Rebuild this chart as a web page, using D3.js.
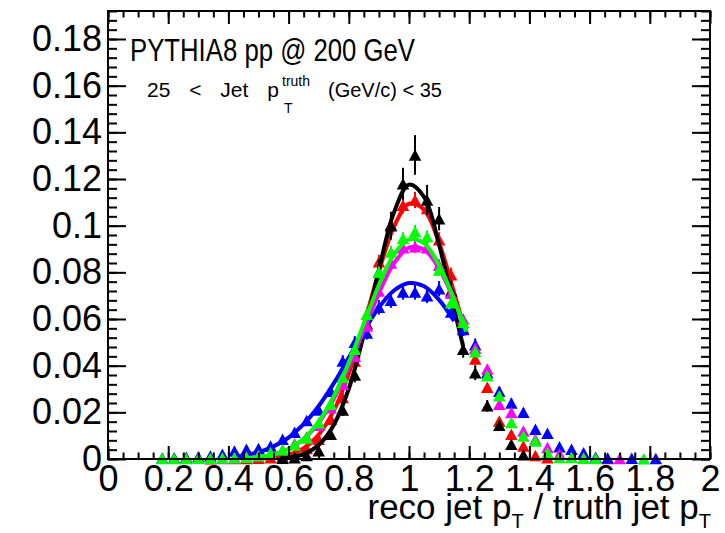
<!DOCTYPE html>
<html>
<head>
<meta charset="utf-8">
<script src="https://cdn.jsdelivr.net/npm/d3@7"></script>
<style>
  body { margin: 0; background: #fff; }
  svg { display: block; }
  text { font-family: "Liberation Sans", Arial, Helvetica, sans-serif; fill: #000; }
</style>
</head>
<body>
<svg id="chart" width="725" height="533"></svg>
<script>
// Bin centres of the response histograms (bin width 0.04)
const binCenters = [0.02,0.06,0.10,0.14,0.18,0.22,0.26,0.30,0.34,0.38,
  0.42,0.46,0.50,0.54,0.58,0.62,0.66,0.70,0.74,0.78,
  0.82,0.86,0.90,0.94,0.98,1.02,1.06,1.10,1.14,1.18,
  1.22,1.26,1.30,1.34,1.38,1.42,1.46,1.50,1.54,1.58,
  1.62,1.66,1.70,1.74,1.78,1.82,1.86,1.90,1.94,1.98];

// Normalised bin contents (null = empty bin)
const blackVals = [null,null,null,null,null,null,null,null,null,null,
  null,null,null,null,0.0003,0.0005,0.0015,0.0035,0.0106,0.021,
  0.036,0.058,0.080,0.100,0.118,0.1303,0.111,0.103,0.072,0.047,
  0.037,0.0228,0.0145,0.0063,0.0018,null,null,null,null,null,
  null,null,null,null,null,null,null,null,null,null];
const blackErrs = [null,null,null,null,null,null,null,null,null,null,
  null,null,null,null,0.0003,0.0004,0.0007,0.001,0.0018,0.0025,
  0.0032,0.004,0.0055,0.006,0.0068,0.0085,0.0065,0.005,0.0045,0.0036,
  0.0032,0.0025,0.002,0.0013,0.0007,null,null,null,null,null,
  null,null,null,null,null,null,null,null,null,null];

const redVals = [null,null,null,null,null,null,null,null,0.0001,null,
  0.0002,0.0002,0.0003,0.0005,0.001,0.002,0.0045,0.0085,0.017,0.0264,
  0.042,0.062,0.0845,0.1005,0.1088,0.111,0.1074,0.094,0.079,0.056,
  0.0429,0.0307,0.0163,0.0106,0.0056,0.0015,0.0005,null,null,null,
  null,0.0002,null,null,null,null,null,null,null,null];
const redErrs = [null,null,null,null,null,null,null,null,0.0001,null,
  0.0001,0.0001,0.0002,0.0002,0.0003,0.0005,0.0007,0.001,0.0014,0.0017,
  0.0021,0.0026,0.003,0.0033,0.0035,0.0035,0.0034,0.0032,0.003,0.0025,
  0.0022,0.0018,0.0013,0.0011,0.0008,0.0004,0.0002,null,null,null,
  null,0.0001,null,null,null,null,null,null,null,null];

const magentaVals = [null,null,null,null,null,null,null,null,null,0.0002,
  0.0004,0.0008,0.0015,0.0025,0.004,0.0065,0.0095,0.0145,0.022,0.032,
  0.044,0.057,0.072,0.084,0.0905,0.091,0.0905,0.083,0.071,0.060,
  0.0475,0.0386,0.0235,0.0199,0.012,0.0085,0.0049,0.0021,0.0008,0.0004,
  null,null,0.0002,null,null,null,null,null,null,null];
const magentaErrs = [null,null,null,null,null,null,null,null,null,0.0001,
  0.0002,0.0003,0.0003,0.0004,0.0006,0.0007,0.0009,0.0011,0.0013,0.0016,
  0.0019,0.0021,0.0024,0.0026,0.0027,0.0027,0.0027,0.0026,0.0024,0.0022,
  0.002,0.0018,0.0014,0.0013,0.001,0.0008,0.0006,0.0004,0.0003,0.0002,
  null,null,0.0001,null,null,null,null,null,null,null];

const greenVals = [null,null,null,null,0.0002,0.0002,0.0002,0.0003,0.0003,0.0004,
  0.0005,0.0007,0.0014,0.0027,0.004,0.006,0.009,0.0155,0.0235,0.035,
  0.047,0.062,0.080,0.0887,0.0945,0.0975,0.0952,0.081,0.067,0.0586,
  0.046,0.0357,0.0271,0.0156,0.0099,0.0077,0.0027,0.0006,0.0006,0.0003,
  0.0002,null,null,null,0.0001,null,null,null,null,null];
const greenErrs = [null,null,null,null,0.0001,0.0001,0.0001,0.0001,0.0001,0.0002,
  0.0002,0.0003,0.0003,0.0005,0.0006,0.0007,0.0009,0.0011,0.0014,0.0017,
  0.0019,0.0022,0.0025,0.0027,0.0027,0.0028,0.0028,0.0025,0.0024,0.0022,
  0.002,0.0017,0.0015,0.0011,0.0009,0.0008,0.0005,0.0002,0.0002,0.0002,
  0.0001,null,null,null,0.0001,null,null,null,null,null];

const blueVals = [null,null,null,null,0.0004,0.0005,0.0007,0.001,0.0013,0.002,
  0.0034,0.0042,0.0045,0.0056,0.0085,0.0115,0.0165,0.021,0.029,0.042,
  0.050,0.054,0.065,0.068,0.0716,0.0716,0.070,0.073,0.063,0.0555,
  0.049,0.037,0.029,0.024,0.020,0.0128,0.011,0.0052,0.0042,0.0027,
  0.0008,0.0004,null,0.0003,null,0.0002,null,null,null,null];
const blueErrs = [null,null,null,null,0.0002,0.0003,0.0003,0.0004,0.0004,0.0005,
  0.0007,0.0008,0.0008,0.0009,0.0011,0.0013,0.0015,0.0017,0.002,0.0025,
  0.0027,0.0028,0.0031,0.0032,0.0033,0.0033,0.0032,0.0033,0.003,0.0028,
  0.0027,0.0023,0.002,0.0019,0.0017,0.0014,0.0013,0.0009,0.0008,0.0006,
  0.0003,0.0002,null,0.0002,null,0.0001,null,null,null,null];

// Gaussian fit curves, tabulated over each fit range
const blackFitX = [0.58,0.60,0.65,0.70,0.75,0.80,0.85,0.90,0.95,1.00,1.05,1.10,1.15,1.18];
const blackFitY = [0.0004,0.00065,0.0021,0.0060,0.0146,0.0301,0.0534,0.0811,0.1056,0.1176,0.1123,0.0918,0.0643,0.0482];
const redFitX = [0.55,0.60,0.65,0.70,0.75,0.80,0.85,0.90,0.95,1.00,1.05,1.10,1.15,1.19];
const redFitY = [0.00064,0.0018,0.0046,0.0104,0.0207,0.0366,0.0575,0.0803,0.0995,0.1094,0.1068,0.0926,0.0713,0.0531];
const magentaFitX = [0.47,0.50,0.55,0.60,0.65,0.70,0.75,0.80,0.85,0.90,0.95,1.00,1.05,1.10,1.15,1.19];
const magentaFitY = [0.0005,0.00085,0.0020,0.0043,0.0085,0.0155,0.0258,0.0395,0.0553,0.0711,0.0838,0.0906,0.0898,0.0816,0.0681,0.0553];
const greenFitX = [0.47,0.50,0.55,0.60,0.65,0.70,0.75,0.80,0.85,0.90,0.95,1.00,1.05,1.10,1.15,1.19];
const greenFitY = [0.00046,0.0008,0.0020,0.0043,0.0087,0.0160,0.0269,0.0413,0.0580,0.0746,0.0876,0.0941,0.0924,0.0830,0.0682,0.0546];
const blueFitX = [0.43,0.45,0.50,0.55,0.60,0.65,0.70,0.75,0.80,0.85,0.90,0.95,1.00,1.05,1.10,1.15];
const blueFitY = [0.0011,0.0015,0.0029,0.0054,0.0092,0.0149,0.0227,0.0324,0.0435,0.0548,0.0649,0.0722,0.0754,0.0740,0.0682,0.0591];

// Axis ticks and labels
const xMajorTicks = [0,0.2,0.4,0.6,0.8,1.0,1.2,1.4,1.6,1.8,2.0];
const xTickLabels = ["0","0.2","0.4","0.6","0.8","1","1.2","1.4","1.6","1.8","2"];
const yMajorTicks = [0,0.02,0.04,0.06,0.08,0.10,0.12,0.14,0.16,0.18];
const yTickLabels = ["0","0.02","0.04","0.06","0.08","0.1","0.12","0.14","0.16","0.18"];

const series = [
  {name: "red",     color: "#ff0000", vals: redVals,     errs: redErrs,     fx: redFitX,     fy: redFitY},
  {name: "black",   color: "#000000", vals: blackVals,   errs: blackErrs,   fx: blackFitX,   fy: blackFitY},
  {name: "blue",    color: "#0000ff", vals: blueVals,    errs: blueErrs,    fx: blueFitX,    fy: blueFitY},
  {name: "magenta", color: "#ff00ff", vals: magentaVals, errs: magentaErrs, fx: magentaFitX, fy: magentaFitY},
  {name: "green",   color: "#00ff00", vals: greenVals,   errs: greenErrs,   fx: greenFitX,   fy: greenFitY}
];

const frame = {left: 108, right: 710, top: 11, bottom: 459};
const svg = d3.select("#chart");

const x = d3.scaleLinear().domain([0, 2]).range([frame.left, frame.right]);
const y = d3.scaleLinear().domain([0, 0.192]).range([frame.bottom, frame.top]);

const xMinorTicks = d3.range(0, 2.0001, 0.05).map(v => +v.toFixed(2));
const yMinorTicks = d3.range(0, 0.1921, 0.004).map(v => +v.toFixed(3));

const plot = svg.append("g");
svg.append("clipPath").attr("id", "frameClip")
  .append("rect")
  .attr("x", frame.left).attr("y", frame.top - 10)
  .attr("width", frame.right - frame.left).attr("height", frame.bottom - frame.top + 20);

// Upward triangle marker, centred on the point
function triangle(cx, cy) {
  const w = 12.5, h = 11.5;
  const p = d3.path();
  p.moveTo(cx, cy - h / 2);
  p.lineTo(cx + w / 2, cy + h / 2);
  p.lineTo(cx - w / 2, cy + h / 2);
  p.closePath();
  return p.toString();
}

const line = d3.line().x(d => x(d[0])).y(d => y(d[1])).curve(d3.curveCatmullRom.alpha(0.5));

series.forEach(s => {
  const pts = binCenters.map((c, i) => ({c, v: s.vals[i], e: s.errs[i]})).filter(d => d.v !== null);
  const g = plot.append("g").attr("class", "series-" + s.name).attr("clip-path", "url(#frameClip)");
  g.selectAll("line.err").data(pts).join("line")
    .attr("class", "err")
    .attr("x1", d => x(d.c)).attr("x2", d => x(d.c))
    .attr("y1", d => y(d.v - d.e)).attr("y2", d => y(d.v + d.e))
    .attr("stroke", s.color).attr("stroke-width", 2);
  g.selectAll("path.mk").data(pts).join("path")
    .attr("class", "mk")
    .attr("d", d => triangle(x(d.c), y(d.v)))
    .attr("fill", s.color);
  g.append("path")
    .datum(s.fx.map((fx, i) => [fx, s.fy[i]]))
    .attr("d", line)
    .attr("fill", "none")
    .attr("stroke", s.color)
    .attr("stroke-width", 4)
    .attr("stroke-linejoin", "round");
});

// Frame
svg.append("rect")
  .attr("x", frame.left).attr("y", frame.top)
  .attr("width", frame.right - frame.left).attr("height", frame.bottom - frame.top)
  .attr("fill", "none").attr("stroke", "#000").attr("stroke-width", 2);

function styleAxis(g) {
  g.select(".domain").remove();
  g.selectAll(".tick line").attr("stroke", "#000").attr("stroke-width", 2);
}

const labelFont = 36;

// Bottom axis
svg.append("g").attr("transform", `translate(0,${frame.bottom})`)
  .call(d3.axisBottom(x).tickValues(xMinorTicks).tickSize(-6.5).tickFormat(""))
  .call(styleAxis);
svg.append("g").attr("transform", `translate(0,${frame.bottom})`)
  .call(d3.axisBottom(x).tickValues(xMajorTicks).tickSize(-13).tickPadding(6)
    .tickFormat((d, i) => xTickLabels[i]))
  .call(styleAxis)
  .call(g => g.selectAll("text").attr("font-size", labelFont)
    .attr("font-family", '"Liberation Sans", Arial, sans-serif').attr("fill", "#000"));

// Top axis (ticks only)
svg.append("g").attr("transform", `translate(0,${frame.top})`)
  .call(d3.axisTop(x).tickValues(xMinorTicks).tickSize(-6.5).tickFormat(""))
  .call(styleAxis);
svg.append("g").attr("transform", `translate(0,${frame.top})`)
  .call(d3.axisTop(x).tickValues(xMajorTicks).tickSize(-13).tickFormat(""))
  .call(styleAxis);

// Left axis
svg.append("g").attr("transform", `translate(${frame.left},0)`)
  .call(d3.axisLeft(y).tickValues(yMinorTicks).tickSize(-9).tickFormat(""))
  .call(styleAxis);
svg.append("g").attr("transform", `translate(${frame.left},0)`)
  .call(d3.axisLeft(y).tickValues(yMajorTicks).tickSize(-18).tickPadding(6)
    .tickFormat((d, i) => yTickLabels[i]))
  .call(styleAxis)
  .call(g => g.selectAll("text").attr("font-size", labelFont)
    .attr("font-family", '"Liberation Sans", Arial, sans-serif').attr("fill", "#000"));

// Right axis (ticks only)
svg.append("g").attr("transform", `translate(${frame.right},0)`)
  .call(d3.axisRight(y).tickValues(yMinorTicks).tickSize(-9).tickFormat(""))
  .call(styleAxis);
svg.append("g").attr("transform", `translate(${frame.right},0)`)
  .call(d3.axisRight(y).tickValues(yMajorTicks).tickSize(-18).tickFormat(""))
  .call(styleAxis);

// Title
svg.append("text")
  .attr("x", 130).attr("y", 61)
  .attr("font-size", 32)
  .attr("textLength", 285).attr("lengthAdjust", "spacingAndGlyphs")
  .text("PYTHIA8 pp @ 200 GeV");

// Jet pT selection
svg.append("text").attr("x", 147).attr("y", 97).attr("font-size", 21)
  .attr("word-spacing", 13)
  .text("25 < Jet p");
svg.append("text").attr("x", 282).attr("y", 86).attr("font-size", 14).text("truth");
svg.append("text").attr("x", 284).attr("y", 113).attr("font-size", 14).text("T");
svg.append("text").attr("x", 328).attr("y", 97).attr("font-size", 20)
  .text("(GeV/c) < 35");

// X axis title
const xt = svg.append("text").attr("x", 711).attr("y", 519).attr("font-size", 35).attr("text-anchor", "end");
xt.append("tspan").text("reco jet p");
xt.append("tspan").attr("font-size", 20).attr("dy", 9).text("T");
xt.append("tspan").attr("dy", -9).text(" / truth jet p");
xt.append("tspan").attr("font-size", 20).attr("dy", 9).text("T");
</script>
</body>
</html>
